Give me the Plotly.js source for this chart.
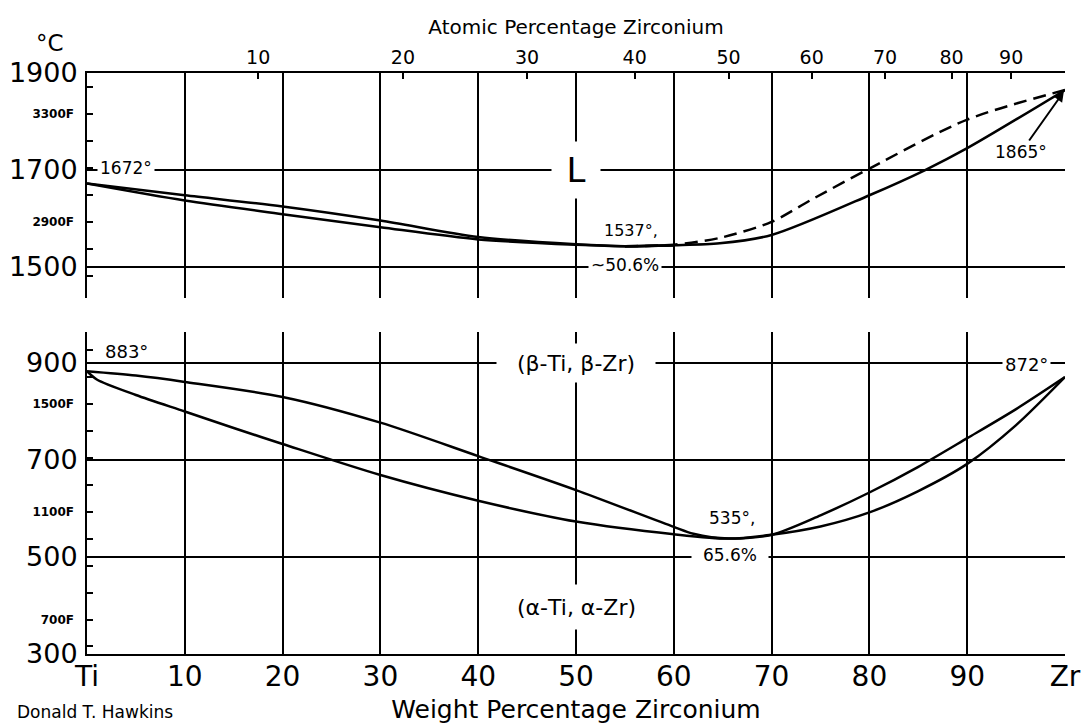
<!DOCTYPE html>
<html>
<head>
<meta charset="utf-8">
<script src="https://cdn.plot.ly/plotly-3.0.1.min.js"></script>
<style>html,body{margin:0;padding:0;background:#fff;}#chart{width:1082px;height:724px;}</style>
</head>
<body>
<div id="chart"></div>
<script>
// ---- tick data ----
const wtTicks = [0, 10, 20, 30, 40, 50, 60, 70, 80, 90, 100];
const wtLabels = ['Ti', '10', '20', '30', '40', '50', '60', '70', '80', '90', 'Zr'];
const atomicLabels = ['10', '20', '30', '40', '50', '60', '70', '80', '90'];
const atomicPosWt = [17.5, 32.3, 45.0, 56.0, 65.6, 74.1, 81.6, 88.4, 94.5];
const topTempTicks = [1500, 1700, 1900];
const botTempTicks = [300, 500, 700, 900];
const topFTicks = [2700, 2800, 2900, 3000, 3100, 3200, 3300, 3400];
const topFLabels = ['', '', '2900F', '', '', '', '3300F', ''];
const botFTicks = [600, 700, 800, 900, 1000, 1100, 1200, 1300, 1400, 1500, 1600, 1700];
const botFLabels = ['', '700F', '', '', '', '1100F', '', '', '', '1500F', '', ''];

// ---- liquid region (upper panel), weight % Zr vs °C ----
const liqUpperX = [0, 10, 20, 30, 40, 50, 55, 60];
const liqUpperY = [1672, 1648, 1625, 1596, 1562, 1547, 1543, 1545];
const solLowerX = [0, 10, 20, 30, 40, 50, 55, 60];
const solLowerY = [1672, 1637, 1609, 1582, 1557, 1546, 1543, 1545];
const solRightX = [55, 60, 64.7, 70, 80, 85.7, 90, 100];
const solRightY = [1543, 1545, 1549, 1566, 1648, 1700, 1745, 1865];
const liqDashX = [55, 60, 64.7, 70, 74, 80, 90, 100];
const liqDashY = [1543, 1546, 1560, 1593, 1638, 1703, 1804, 1865];

// ---- beta / alpha transformation (lower panel) ----
const betaX = [0, 5, 10, 20, 30, 40, 50, 60, 62, 65.6, 70, 75, 80, 85, 90, 95, 100];
const betaY = [883, 874, 861, 830, 777, 708, 638, 562, 548, 538, 546, 586, 633, 686, 745, 805, 871];
const alphaX = [0, 1, 5, 10, 15, 20, 30, 40, 50, 60, 65.6, 70, 75, 80, 85, 90, 95, 100];
const alphaY = [883, 866, 834, 800, 766, 733, 669, 616, 573, 547, 538, 546, 563, 592, 636, 692, 772, 871];

const FONT = 'DejaVu Sans, Verdana, sans-serif';
const toF = c => c * 9 / 5 + 32;
const topRange = [1436.1, 1900];
const botRange = [300, 963.9];

const lineStyle = {color: '#000', width: 2.5, shape: 'spline', smoothing: 0.8};

const traces = [
  {x: liqUpperX, y: liqUpperY, xaxis: 'x2', yaxis: 'y2', mode: 'lines', line: lineStyle},
  {x: solLowerX, y: solLowerY, xaxis: 'x2', yaxis: 'y2', mode: 'lines', line: lineStyle},
  {x: solRightX, y: solRightY, xaxis: 'x2', yaxis: 'y2', mode: 'lines', line: lineStyle},
  {x: liqDashX, y: liqDashY, xaxis: 'x2', yaxis: 'y2', mode: 'lines',
   line: Object.assign({}, lineStyle, {dash: '13px,7px'})},
  {x: betaX, y: betaY, xaxis: 'x', yaxis: 'y', mode: 'lines', line: lineStyle},
  {x: alphaX, y: alphaY, xaxis: 'x', yaxis: 'y', mode: 'lines', line: lineStyle},
  {x: [], y: [], xaxis: 'x3', yaxis: 'y2', mode: 'lines'},
  {x: [], y: [], xaxis: 'x', yaxis: 'y3', mode: 'lines'},
  {x: [], y: [], xaxis: 'x2', yaxis: 'y4', mode: 'lines'}
];

const gridAxis = {
  showgrid: true, gridcolor: '#000', gridwidth: 2,
  showline: true, linecolor: '#000', linewidth: 2,
  zeroline: false, ticks: '', fixedrange: true
};

function ann(text, xref, yref, x, y, size, extra) {
  return Object.assign({
    text: text, xref: xref, yref: yref, x: x, y: y, showarrow: false,
    xanchor: 'center', yanchor: 'middle',
    font: {family: FONT, size: size, color: '#000'}
  }, extra || {});
}

const annotations = [
  ann('°C', 'paper', 'paper', -0.038, 1.052, 23),
  ann('Donald T. Hawkins', 'paper', 'paper', -0.0736, -0.1, 17, {xanchor: 'left'}),
  ann('1672°', 'x2', 'y2', 4.0, 1704, 17, {bgcolor: '#fff', borderpad: 2}),
  ann('L', 'x2', 'y2', 50, 1700, 34, {bgcolor: '#fff', width: 42, height: 50, borderpad: 3}),
  ann('1537°,', 'x2', 'y2', 55.6, 1576, 16),
  ann('~50.6%', 'x2', 'y2', 55.0, 1504, 17, {bgcolor: '#fff', borderpad: 2}),
  ann('1865°', 'x2', 'y2', 100, 1865, 17,
      {showarrow: true, ax: -44, ay: 62, arrowhead: 2, arrowsize: 1, arrowwidth: 2,
       arrowcolor: '#000', standoff: 2, bgcolor: '#fff'}),
  ann('883°', 'x', 'y', 4.0, 923, 18),
  ann('(β-Ti, β-Zr)', 'x', 'y', 50, 900, 22, {bgcolor: '#fff', width: 150, height: 30, borderpad: 4}),
  ann('872°', 'x', 'y', 96.1, 897, 18, {bgcolor: '#fff', borderpad: 2}),
  ann('535°,', 'x', 'y', 66.0, 580, 17),
  ann('65.6%', 'x', 'y', 65.7, 504, 17, {bgcolor: '#fff', width: 74, borderpad: 1}),
  ann('(α-Ti, α-Zr)', 'x', 'y', 50, 397, 22, {bgcolor: '#fff', width: 145, height: 36, borderpad: 4})
];

const layout = {
  width: 1082, height: 724,
  margin: {l: 87, r: 17, t: 73, b: 70},
  paper_bgcolor: '#fff', plot_bgcolor: '#fff',
  showlegend: false,
  font: {family: FONT, color: '#000'},
  xaxis: Object.assign({}, gridAxis, {
    anchor: 'y', range: [0, 100], tickmode: 'array', tickvals: wtTicks, ticktext: wtLabels,
    tickfont: {family: FONT, size: 28, color: '#000'}, ticklabelstandoff: -4,
    title: {text: 'Weight Percentage Zirconium', font: {family: FONT, size: 25, color: '#000'}, standoff: 10}
  }),
  xaxis2: Object.assign({}, gridAxis, {
    anchor: 'y2', range: [0, 100], side: 'top', tickmode: 'array', tickvals: wtTicks,
    showticklabels: false
  }),
  xaxis3: {
    overlaying: 'x2', anchor: 'y2', side: 'top', range: [0, 100], tickmode: 'array',
    tickvals: atomicPosWt, ticktext: atomicLabels, ticks: 'inside', ticklen: 6, tickwidth: 2,
    tickcolor: '#000', showgrid: false, showline: false, zeroline: false, fixedrange: true,
    tickfont: {family: FONT, size: 19, color: '#000'}, ticklabelstandoff: 4,
    title: {text: 'Atomic Percentage Zirconium', font: {family: FONT, size: 20, color: '#000'}, standoff: 6}
  },
  yaxis: Object.assign({}, gridAxis, {
    anchor: 'x', domain: [0, 0.5542], range: botRange, tickmode: 'array', tickvals: botTempTicks,
    tickfont: {family: FONT, size: 27, color: '#000'}, ticklabelstandoff: 2
  }),
  yaxis2: Object.assign({}, gridAxis, {
    anchor: 'x2', domain: [0.6127, 1], range: topRange, tickmode: 'array', tickvals: topTempTicks,
    tickfont: {family: FONT, size: 27, color: '#000'}, ticklabelstandoff: 2
  }),
  yaxis3: {
    overlaying: 'y', anchor: 'x', side: 'left', range: botRange.map(toF), tickmode: 'array',
    tickvals: botFTicks, ticktext: botFLabels, ticks: 'inside', ticklen: 6, tickwidth: 2,
    tickcolor: '#000', showgrid: false, showline: false, zeroline: false, fixedrange: true,
    tickfont: {family: FONT, size: 12, color: '#000', weight: 'bold'}, ticklabelstandoff: 12
  },
  yaxis4: {
    overlaying: 'y2', anchor: 'x2', side: 'left', range: topRange.map(toF), tickmode: 'array',
    tickvals: topFTicks, ticktext: topFLabels, ticks: 'inside', ticklen: 6, tickwidth: 2,
    tickcolor: '#000', showgrid: false, showline: false, zeroline: false, fixedrange: true,
    tickfont: {family: FONT, size: 12, color: '#000', weight: 'bold'}, ticklabelstandoff: 12
  },
  annotations: annotations
};

Plotly.newPlot('chart', traces, layout, {staticPlot: true, displayModeBar: false});
</script>
</body>
</html>
